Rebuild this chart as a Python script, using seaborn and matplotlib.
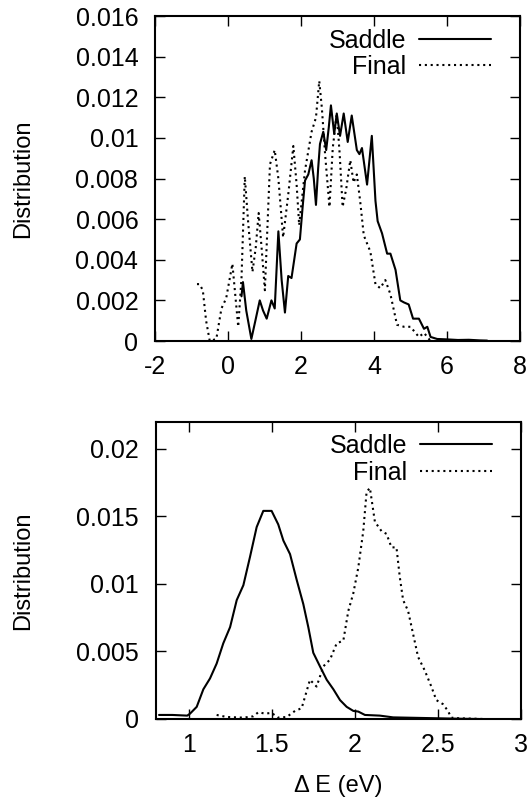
import matplotlib
matplotlib.use("Agg")
import matplotlib.pyplot as plt
import seaborn as sns

# top panel: wide-range distributions
top_saddle_x = [0.37, 0.41, 0.50, 0.64, 0.75, 0.87, 0.96, 1.06, 1.19, 1.28, 1.38, 1.47, 1.56, 1.65,
                1.74, 1.88, 1.97, 2.04, 2.11, 2.20, 2.29, 2.35, 2.41, 2.47, 2.52, 2.61, 2.69, 2.76,
                2.82, 2.91, 2.98, 3.07, 3.17, 3.28, 3.39, 3.53, 3.60, 3.67, 3.81, 3.94, 4.04, 4.10,
                4.22, 4.36, 4.45, 4.59, 4.72, 4.82, 4.95, 5.07, 5.23, 5.37, 5.46, 5.55, 5.73, 6.0,
                6.3, 6.6, 6.9, 7.1]
top_saddle_y = [0.0022, 0.0029, 0.0015, 0.0001, 0.0010, 0.0020, 0.0015, 0.0011, 0.0020, 0.0016,
                0.0054, 0.0030, 0.0014, 0.0032, 0.0031, 0.0048, 0.0050, 0.0065, 0.0079, 0.0082,
                0.0089, 0.0080, 0.0067, 0.0085, 0.0097, 0.0103, 0.0094, 0.0105, 0.0116, 0.0102,
                0.0112, 0.0101, 0.0112, 0.0098, 0.0111, 0.0094, 0.0092, 0.0095, 0.0077, 0.0101,
                0.0069, 0.0059, 0.0053, 0.0043, 0.0043, 0.0035, 0.0020, 0.0019, 0.0018, 0.0011,
                0.0011, 0.0006, 0.0007, 0.0002, 0.0001, 0.00008, 0.00005, 0.00006, 0.00003, 0.00002]

top_final_x = [-0.85, -0.78, -0.69, -0.60, -0.50, -0.32, -0.18, -0.05, 0.12, 0.28, 0.37, 0.46,
               0.55, 0.67, 0.76, 0.84, 0.92, 1.01, 1.15, 1.28, 1.38, 1.51, 1.65, 1.79, 1.88, 1.95,
               2.11, 2.29, 2.41, 2.50, 2.57, 2.66, 2.78, 2.87, 2.98, 3.06, 3.14, 3.24, 3.35, 3.44,
               3.53, 3.62, 3.72, 3.90, 4.04, 4.17, 4.31, 4.45, 4.63, 4.82, 5.00, 5.23, 5.37, 5.55]
top_final_y = [0.0028, 0.0028, 0.0025, 0.0010, 0.0000, 0.0001, 0.0016, 0.0021, 0.0038, 0.0007,
               0.0031, 0.0081, 0.0059, 0.0034, 0.0046, 0.0063, 0.0046, 0.0025, 0.0087, 0.0094,
               0.0080, 0.0051, 0.0072, 0.0096, 0.0077, 0.0057, 0.0084, 0.0103, 0.0110, 0.0128,
               0.0115, 0.0092, 0.0066, 0.0095, 0.0112, 0.0092, 0.0066, 0.0075, 0.0089, 0.0078,
               0.0082, 0.0069, 0.0052, 0.0044, 0.0028, 0.0026, 0.0030, 0.0023, 0.0008, 0.0007,
               0.0007, 0.0002, 0.0004, 0.0]

# bottom panel: narrow-range distributions
bot_saddle_x = [0.82, 0.90, 0.99, 1.007, 1.047, 1.087, 1.127, 1.167, 1.207, 1.248, 1.288, 1.328,
                1.368, 1.408, 1.448, 1.498, 1.538, 1.569, 1.609, 1.649, 1.689, 1.719, 1.749,
                1.789, 1.830, 1.870, 1.910, 1.950, 1.990, 2.02, 2.06, 2.15, 2.23, 2.43, 2.63, 2.75]
bot_saddle_y = [0.0003, 0.0003, 0.00025, 0.0004, 0.0009, 0.0022, 0.0030, 0.0041, 0.0056, 0.0068,
                0.0088, 0.0099, 0.0120, 0.0142, 0.0154, 0.0154, 0.0144, 0.0132, 0.0122, 0.0103,
                0.0085, 0.0068, 0.0049, 0.0039, 0.0029, 0.0022, 0.0014, 0.0009, 0.0006, 0.00055,
                0.0003, 0.00025, 0.00012, 0.00007, 0.00002, 0.0]

bot_final_x = [1.167, 1.227, 1.328, 1.388, 1.418, 1.458, 1.498, 1.538, 1.589, 1.639, 1.679, 1.729,
               1.769, 1.810, 1.850, 1.890, 1.930, 1.960, 1.990, 2.02, 2.05, 2.07, 2.09, 2.12, 2.16,
               2.19, 2.22, 2.25, 2.27, 2.29, 2.32, 2.35, 2.38, 2.42, 2.46, 2.49, 2.53, 2.56, 2.58,
               2.63, 2.78]
bot_final_y = [0.0003, 0.00015, 0.0001, 0.0002, 0.0005, 0.0004, 0.00045, 0.0001, 0.00015, 0.0006,
               0.0008, 0.0029, 0.0024, 0.0039, 0.0044, 0.0056, 0.0058, 0.0080, 0.0093, 0.0112,
               0.0139, 0.0168, 0.0171, 0.0146, 0.0139, 0.0137, 0.0127, 0.0127, 0.0105, 0.0088,
               0.0080, 0.0063, 0.0046, 0.0036, 0.0024, 0.0014, 0.0011, 0.0006, 0.0001, 0.00005, 0.0]

top_xticks = [-2, 0, 2, 4, 6, 8]
top_yticks = [0, 0.002, 0.004, 0.006, 0.008, 0.01, 0.012, 0.014, 0.016]
top_ylabels = ["0", "0.002", "0.004", "0.006", "0.008", "0.01", "0.012", "0.014", "0.016"]
bot_xticks = [1, 1.5, 2, 2.5, 3]
bot_xlabels = ["1", "1.5", "2", "2.5", "3"]
bot_yticks = [0, 0.005, 0.01, 0.015, 0.02]
bot_ylabels = ["0", "0.005", "0.01", "0.015", "0.02"]

sns.set_theme(style="ticks")
plt.rcParams["font.family"] = ["Liberation Sans", "DejaVu Sans"]
plt.rcParams["text.color"] = "black"
FS = 18

fig = plt.figure(figsize=(5.32, 7.97), dpi=100)
ax1 = fig.add_axes([155 / 532, 1 - 341 / 797, 365 / 532, 325 / 797])
ax2 = fig.add_axes([155.7 / 532, 1 - 719 / 797, 365.3 / 532, 297.3 / 797])

dotted = (0, (1, 1.8))


def style_axes(ax):
    for sp in ax.spines.values():
        sp.set_visible(True)
        sp.set_linewidth(1.5)
        sp.set_color("black")
    ax.tick_params(direction="in", length=7, width=1, color="black",
                   top=True, right=True, labelsize=FS, labelcolor="black")
    ax.tick_params(axis="x", pad=10)
    ax.tick_params(axis="y", pad=12)
    ax.set_ylabel("Distribution", fontsize=17, color="black", labelpad=30)
    leg = ax.legend(loc="upper right", frameon=False, markerfirst=False, fontsize=FS,
                    handlelength=2.9, handletextpad=0.5, labelspacing=0.1,
                    borderaxespad=0.1, bbox_to_anchor=(0.955, 1.0))
    for t in leg.get_texts():
        t.set_color("black")
    for h in leg.get_lines():
        h.set_linewidth(1.5)


sns.lineplot(x=top_saddle_x, y=top_saddle_y, ax=ax1, color="black", lw=1.5, label="Saddle")
sns.lineplot(x=top_final_x, y=top_final_y, ax=ax1, color="black", lw=1.5, linestyle=dotted,
             label="Final")
ax1.set_xlim(-2, 8)
ax1.set_ylim(0, 0.016)
ax1.set_xticks(top_xticks)
ax1.set_xticklabels([str(t) for t in top_xticks])
ax1.set_yticks(top_yticks)
ax1.set_yticklabels(top_ylabels)
style_axes(ax1)

sns.lineplot(x=bot_saddle_x, y=bot_saddle_y, ax=ax2, color="black", lw=1.5, label="Saddle")
sns.lineplot(x=bot_final_x, y=bot_final_y, ax=ax2, color="black", lw=1.5, linestyle=dotted,
             label="Final")
ax2.set_xlim(0.8, 3)
ax2.set_ylim(0, 0.022)
ax2.set_xticks(bot_xticks)
ax2.set_xticklabels(bot_xlabels)
ax2.set_yticks(bot_yticks)
ax2.set_yticklabels(bot_ylabels)
style_axes(ax2)
ax2.set_xlabel("Δ E (eV)", fontsize=17, color="black", labelpad=13)

fig.savefig("out.png", dpi=100)
